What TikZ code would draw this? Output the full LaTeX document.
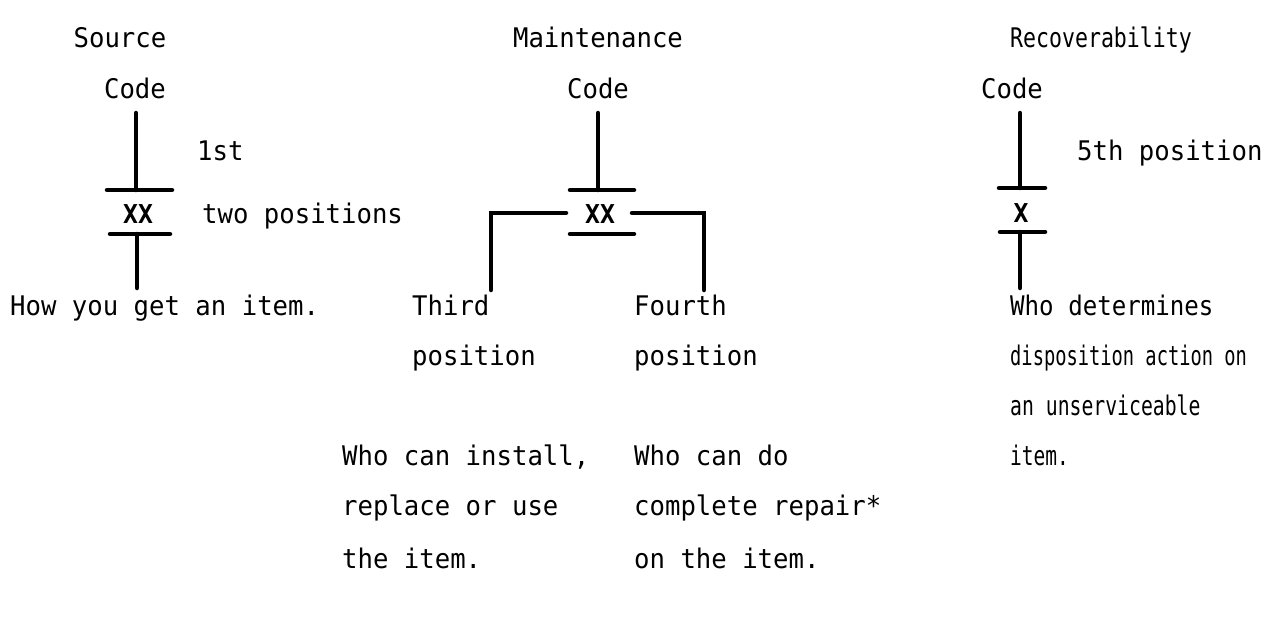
\documentclass[tikz,border=0pt]{standalone}
\usepackage{graphicx}
\usepackage{fontspec}
\newfontfamily\lgfont[FakeStretch=0.95]{DejaVu Sans Mono}
\begin{document}
\begin{tikzpicture}[x=1pt,y=-1pt,
  txt/.style={inner sep=0pt, anchor=base west, font=\lgfont\fontsize{27}{30}\selectfont},
  ctr/.style={txt, anchor=base},
  xx/.style={inner sep=0pt, anchor=center, font=\lgfont\bfseries\fontsize{26}{30}\selectfont},
  bar/.style={line width=4.5pt, line cap=round, line join=miter}]
\useasboundingbox (0,0) rectangle (1274,642);

% titles
\node[ctr] (t-src) at (120,48) {Source};
\node[ctr] (t-mnt) at (598,48) {Maintenance};
\node[txt] (t-rec) at (1010,48) {\scalebox{0.84}[1]{Recoverability}};

% code labels
\node[ctr] (c-src) at (135,98) {Code};
\node[ctr] (c-mnt) at (598,98) {Code};
\node[ctr] (c-rec) at (1012,98) {Code};

% ---- Source
\coordinate (s-top) at (136,113);
\coordinate (s-mid1) at (136,190);
\coordinate (s-b1l) at (107,190);
\coordinate (s-b1r) at (172,190);
\node[xx] (s-xx) at (138,214) {XX};
\coordinate (s-b2l) at (110,234);
\coordinate (s-b2r) at (170,234);
\coordinate (s-mid2) at (137,234);
\coordinate (s-bot) at (137,288);
\draw[bar] (s-top) -- (s-mid1);
\draw[bar] (s-b1l) -- (s-b1r);
\draw[bar] (s-b2l) -- (s-b2r);
\draw[bar] (s-mid2) -- (s-bot);
\node[txt] (s-1st) at (197,160) {1st};
\node[txt] (s-two) at (202,223) {two positions};
\node[txt] (s-how) at (10,315) {How you get an item.};

% ---- Maintenance
\coordinate (m-top) at (598,113);
\coordinate (m-mid1) at (598,190);
\coordinate (m-b1l) at (570,190);
\coordinate (m-b1r) at (634,190);
\node[xx] (m-xx) at (600,214) {XX};
\coordinate (m-b2l) at (570,234);
\coordinate (m-b2r) at (634,234);
\coordinate (m-ls) at (566,213);
\coordinate (m-lc) at (491,213);
\coordinate (m-le) at (491,290);
\coordinate (m-rs) at (632,213);
\coordinate (m-rc) at (704,213);
\coordinate (m-re) at (704,290);
\draw[bar] (m-top) -- (m-mid1);
\draw[bar] (m-b1l) -- (m-b1r);
\draw[bar] (m-b2l) -- (m-b2r);
\draw[bar] (m-ls) -- (m-lc) -- (m-le);
\draw[bar] (m-rs) -- (m-rc) -- (m-re);
\node[txt] (m-third) at (412,315) {Third};
\node[txt] (m-pos3) at (412,365) {position};
\node[txt] (m-fourth) at (634,315) {Fourth};
\node[txt] (m-pos4) at (634,365) {position};
\node[txt] (m-w1) at (342,465) {Who can install,};
\node[txt] (m-w2) at (342,515) {replace or use};
\node[txt] (m-w3) at (342,568) {the item.};
\node[txt] (m-r1) at (634,465) {Who can do};
\node[txt] (m-r2) at (634,515) {complete repair*};
\node[txt] (m-r3) at (634,568) {on the item.};

% ---- Recoverability
\coordinate (r-top) at (1020,113);
\coordinate (r-mid1) at (1020,188);
\coordinate (r-b1l) at (999,188);
\coordinate (r-b1r) at (1045,188);
\node[xx] (r-x) at (1021,213) {X};
\coordinate (r-b2l) at (1000,232);
\coordinate (r-b2r) at (1045,232);
\coordinate (r-mid2) at (1020,232);
\coordinate (r-bot) at (1020,288);
\draw[bar] (r-top) -- (r-mid1);
\draw[bar] (r-b1l) -- (r-b1r);
\draw[bar] (r-b2l) -- (r-b2r);
\draw[bar] (r-mid2) -- (r-bot);
\node[txt] (r-5th) at (1077,160) {5th position};
\node[txt] (r-d1) at (1010,315) {\scalebox{0.94}[1]{Who determines}};
\node[txt] (r-d2) at (1010,365) {\scalebox{0.73}[1]{disposition action on}};
\node[txt] (r-d3) at (1010,415) {\scalebox{0.77}[1]{an unserviceable}};
\node[txt] (r-d4) at (1010,465) {\scalebox{0.76}[1]{item.}};
\end{tikzpicture}
\end{document}
